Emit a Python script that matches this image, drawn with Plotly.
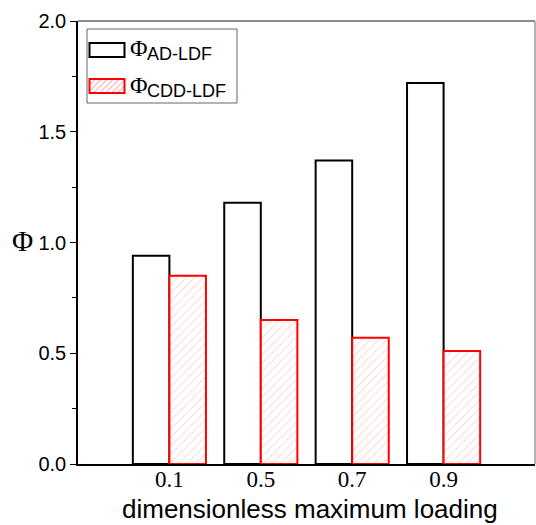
import plotly.graph_objects as go

categories = ["0.1", "0.5", "0.7", "0.9"]
phi_ad_ldf = [0.94, 1.18, 1.37, 1.72]
phi_cdd_ldf = [0.85, 0.65, 0.57, 0.51]
y_ticks = [0.0, 0.5, 1.0, 1.5, 2.0]
y_tick_labels = ["0.0", "0.5", "1.0", "1.5", "2.0"]
legend_names = ["AD-LDF", "CDD-LDF"]
x_title = "dimensionless maximum loading"

xpos = list(range(len(categories)))

W, H = 536, 525
L, R, T, B = 78, 1, 21, 61
PW, PH = W - L - R, H - T - B


def px(x):
    return (x - L) / PW


def py(y):
    return (H - B - y) / PH


HATCH = "rgba(255,60,60,0.6)"

fig = go.Figure()
fig.add_trace(go.Bar(
    x=xpos, y=phi_ad_ldf, name="Φ" + legend_names[0],
    marker=dict(color="white", line=dict(color="black", width=2)),
))
fig.add_trace(go.Bar(
    x=xpos, y=phi_cdd_ldf, name="Φ" + legend_names[1],
    marker=dict(color="white", line=dict(color="red", width=2),
                pattern=dict(shape="/", fgcolor=HATCH, bgcolor="white",
                             size=6, solidity=0.15)),
))

fig.update_layout(
    width=W, height=H,
    margin=dict(l=L, r=R, t=T, b=B),
    plot_bgcolor="white", paper_bgcolor="white",
    barmode="group", bargap=0.2, bargroupgap=0,
    showlegend=False,
    xaxis=dict(range=[-1, 4], tickvals=xpos, ticktext=categories, automargin=False,
               showgrid=False, zeroline=False, showline=True, linecolor="black", linewidth=1.5,
               ticks="", ticklabelstandoff=-6,
               tickfont=dict(family="Liberation Serif, Times New Roman", size=23, color="black")),
    yaxis=dict(range=[0, 2.0], tickvals=y_ticks, ticktext=y_tick_labels, automargin=False,
               showgrid=False, zeroline=False, showline=True, linecolor="black", linewidth=1.5,
               ticks="outside", ticklen=6, tickwidth=1, tickcolor="black",
               minor=dict(dtick=0.25, ticks="outside", ticklen=4, tickcolor="black", showgrid=False),
               tickfont=dict(family="Liberation Sans, Arial", size=20, color="black")),
)

# axis titles placed precisely
fig.add_annotation(xref="paper", yref="paper", x=px(22), y=py(241), xanchor="center", yanchor="middle",
                   showarrow=False, text="Φ",
                   font=dict(family="Liberation Serif, Times New Roman", size=29, color="black"))
fig.add_annotation(xref="paper", yref="paper", x=px(310), y=py(509), xanchor="center", yanchor="middle",
                   showarrow=False, text=x_title,
                   font=dict(family="Liberation Sans, Arial", size=26, color="black"))

# frame (top / right in gray)
fig.add_shape(type="line", xref="paper", yref="paper", x0=0, y0=1, x1=1, y1=1,
              line=dict(color="#666", width=1.5))
fig.add_shape(type="line", xref="paper", yref="paper", x0=1, y0=0, x1=1, y1=1,
              line=dict(color="#999", width=1.5))

# custom legend
fig.add_shape(type="rect", xref="paper", yref="paper",
              x0=px(87), x1=px(237), y0=py(103), y1=py(29),
              line=dict(color="#666", width=1), fillcolor="white")
fig.add_shape(type="rect", xref="paper", yref="paper",
              x0=px(89.5), x1=px(124.5), y0=py(57), y1=py(43),
              line=dict(color="black", width=2), fillcolor="white")
hx0, hx1, hy0, hy1 = 89.5, 124.5, 79, 93
path = ""
step = 6
k = hx0 - (hy1 - hy0)
while k < hx1:
    xa, ya = k, hy1
    xb, yb = k + (hy1 - hy0), hy0
    if xa < hx0:
        ya = hy1 - (hx0 - xa); xa = hx0
    if xb > hx1:
        yb = hy0 + (xb - hx1); xb = hx1
    if xa < xb:
        path += f"M{px(xa)},{py(ya)} L{px(xb)},{py(yb)} "
    k += step
fig.add_shape(type="path", xref="paper", yref="paper", path=path,
              line=dict(color=HATCH, width=1))
fig.add_shape(type="rect", xref="paper", yref="paper",
              x0=px(89.5), x1=px(124.5), y0=py(93), y1=py(79),
              line=dict(color="red", width=2))

for name, yc_phi, yc_sub in [(legend_names[0], 48.5, 54.5), (legend_names[1], 85, 91)]:
    fig.add_annotation(xref="paper", yref="paper", x=px(128), y=py(yc_phi),
                       xanchor="left", yanchor="middle", showarrow=False, text="Φ",
                       font=dict(family="Liberation Serif, Times New Roman", size=24, color="black"))
    fig.add_annotation(xref="paper", yref="paper", x=px(145), y=py(yc_sub),
                       xanchor="left", yanchor="middle", showarrow=False, text=name,
                       font=dict(family="Liberation Sans, Arial", size=18, color="black"))

fig.write_html("out.html", config={"displayModeBar": False},
               post_script="document.body.style.margin='0';document.body.style.overflow='hidden';")
